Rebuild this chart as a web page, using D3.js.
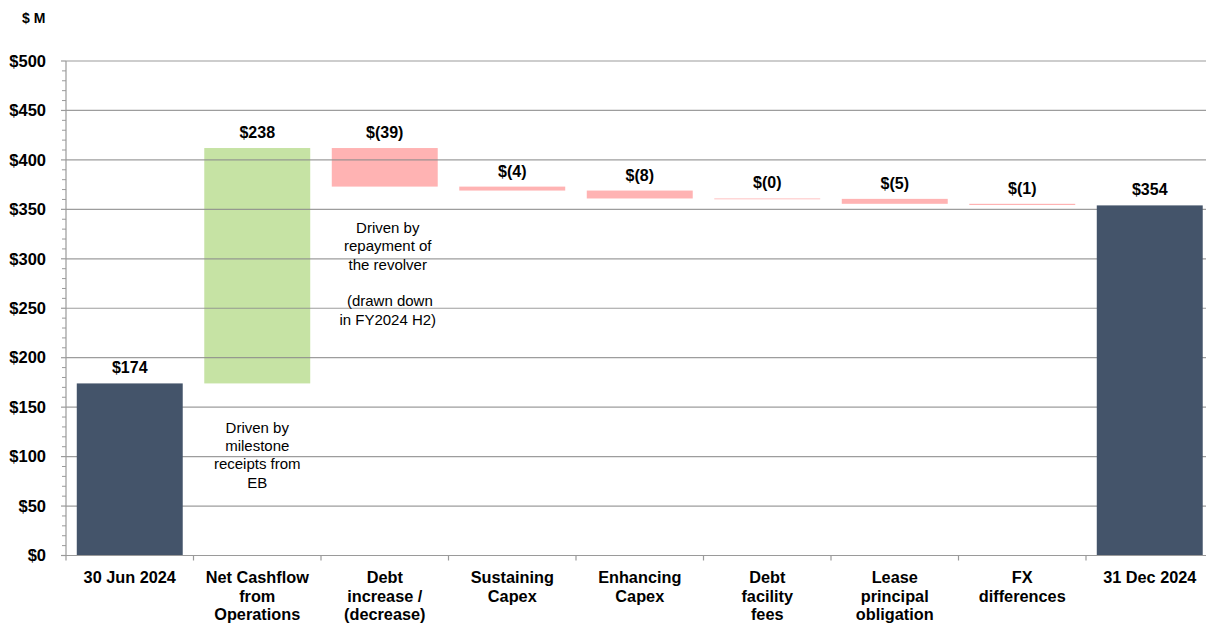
<!DOCTYPE html>
<html>
<head>
<meta charset="utf-8">
<title>waterfall</title>
<style>
  body { margin: 0; background: #fff; }
  svg text { font-family: "Liberation Sans", Arial, sans-serif; }
</style>
</head>
<body>
<main></main>
<script src="https://cdn.jsdelivr.net/npm/d3@7"></script>
<script>
    // 数据
    var categories = [
        ["30 Jun 2024"],
        ["Net Cashflow", "from", "Operations"],
        ["Debt", "increase /", "(decrease)"],
        ["Sustaining", "Capex"],
        ["Enhancing", "Capex"],
        ["Debt", "facility", "fees"],
        ["Lease", "principal", "obligation"],
        ["FX", "differences"],
        ["31 Dec 2024"]
    ];
    var values = [174, 238, -39, -4, -8, -0.4, -5, -1.2, 354];
    var kinds = ["total", "delta", "delta", "delta", "delta", "delta", "delta", "delta", "total"];
    var valueLabels = ["$174", "$238", "$(39)", "$(4)", "$(8)", "$(0)", "$(5)", "$(1)", "$354"];
    var yTicks = [0, 50, 100, 150, 200, 250, 300, 350, 400, 450, 500];
    var notes = [
        { index: 1, lines: ["Driven by", "milestone", "receipts from", "EB"], at: 124, dx: 0 },
        { index: 2, lines: ["Driven by", "repayment of", "the revolver", "", " (drawn down", "in FY2024 H2)"], at: 326, dx: 3 }
    ];

    var width = 1206, height = 625;
    var margin = { left: 66, top: 61, bottom: 69 };

    var svg = d3.select("main").append("svg")
        .attr("width", width)
        .attr("height", height);

    // 图表区右侧超出画布一点
    var xEnd = 1213.5;
    var x = d3.scaleBand()
        .domain(d3.range(categories.length))
        .range([margin.left, xEnd])
        .paddingInner(0.169)
        .paddingOuter(0.0845);

    var y = d3.scaleLinear()
        .domain([0, 500])
        .range([height - margin.bottom - 0.5, margin.top]);

    // 计算起止
    var running = 0;
    var bars = values.map(function (v, i) {
        var b;
        if (kinds[i] === "total") {
            b = { y0: 0, y1: v };
            running = v;
        } else {
            b = { y0: running, y1: running + v };
            running += v;
        }
        b.v = v;
        b.kind = kinds[i];
        b.i = i;
        return b;
    });

    function fillOf(d) {
        if (d.kind === "total") return "#44546a";
        return d.v >= 0 ? "#c6e3a4" : "#ffb3b3";
    }

    function drawBars(sel) {
        sel.attr("x", function (d) { return x(d.i); })
            .attr("width", x.bandwidth())
            .attr("y", function (d) { return y(Math.max(d.y0, d.y1)); })
            .attr("height", function (d) { return Math.max(0.8, Math.abs(y(d.y0) - y(d.y1))); })
            .attr("fill", fillOf);
    }

    // 浮动柱子 (网格线盖在上面)
    svg.append("g")
        .selectAll("rect")
        .data(bars.filter(function (d) { return d.kind !== "total"; }))
        .enter().append("rect")
        .call(drawBars);

    // 网格线
    svg.append("g")
        .selectAll("line")
        .data(yTicks.filter(function (t) { return t > 0; }))
        .enter().append("line")
        .attr("x1", margin.left)
        .attr("x2", width)
        .attr("y1", function (d) { return y(d); })
        .attr("y2", function (d) { return y(d); })
        .attr("stroke", "#8c8c8c")
        .attr("stroke-opacity", 0.85)
        .attr("stroke-width", 1.2);

    // 期初/期末柱子
    svg.append("g")
        .selectAll("rect")
        .data(bars.filter(function (d) { return d.kind === "total"; }))
        .enter().append("rect")
        .call(drawBars);

    // 数值标签
    svg.append("g")
        .selectAll("text")
        .data(bars)
        .enter().append("text")
        .attr("x", function (d) { return x(d.i) + x.bandwidth() / 2; })
        .attr("y", function (d) { return y(Math.max(d.y0, d.y1)) - 10; })
        .attr("text-anchor", "middle")
        .attr("font-size", 16)
        .attr("font-weight", "bold")
        .attr("fill", "#000")
        .text(function (d, i) { return valueLabels[i]; });

    // y 轴
    var yAxis = svg.append("g").attr("transform", "translate(" + margin.left + ",0)");
    yAxis.append("line")
        .attr("x1", 0).attr("x2", 0)
        .attr("y1", y(500)).attr("y2", y(0))
        .attr("stroke", "#9a9a9a").attr("stroke-width", 1.2);
    yAxis.selectAll(".minor")
        .data(d3.range(0, 501, 10).filter(function (t) { return t % 50 !== 0; }))
        .enter().append("line")
        .attr("x1", -4).attr("x2", 0)
        .attr("y1", function (d) { return y(d); })
        .attr("y2", function (d) { return y(d); })
        .attr("stroke", "#9a9a9a").attr("stroke-width", 1);
    yAxis.selectAll(".major")
        .data(yTicks)
        .enter().append("line")
        .attr("x1", -5).attr("x2", 0)
        .attr("y1", function (d) { return y(d); })
        .attr("y2", function (d) { return y(d); })
        .attr("stroke", "#9a9a9a").attr("stroke-width", 1.2);
    yAxis.selectAll("text")
        .data(yTicks)
        .enter().append("text")
        .attr("x", -20)
        .attr("y", function (d) { return y(d); })
        .attr("dy", "0.35em")
        .attr("text-anchor", "end")
        .attr("font-size", 16.5)
        .attr("font-weight", "bold")
        .text(function (d) { return "$" + d; });

    svg.append("text")
        .attr("x", 22).attr("y", 23)
        .attr("font-size", 14)
        .attr("font-weight", "bold")
        .text("$ M");

    // x 轴
    var xAxis = svg.append("g");
    xAxis.append("line")
        .attr("x1", margin.left).attr("x2", width)
        .attr("y1", y(0)).attr("y2", y(0))
        .attr("stroke", "#9a9a9a").attr("stroke-width", 1.2);
    xAxis.selectAll(".tick")
        .data(d3.range(categories.length + 1))
        .enter().append("line")
        .attr("x1", function (d) { return margin.left + d * x.step(); })
        .attr("x2", function (d) { return margin.left + d * x.step(); })
        .attr("y1", y(0)).attr("y2", y(0) + 5)
        .attr("stroke", "#9a9a9a").attr("stroke-width", 1.2);

    var catText = xAxis.selectAll(".cat")
        .data(categories)
        .enter().append("text")
        .attr("x", function (d, i) { return x(i) + x.bandwidth() / 2; })
        .attr("y", y(0) + 27.5)
        .attr("text-anchor", "middle")
        .attr("font-size", 16.3)
        .attr("font-weight", "bold");
    catText.selectAll("tspan")
        .data(function (d) { return d; })
        .enter().append("tspan")
        .attr("x", function () { return d3.select(this.parentNode).attr("x"); })
        .attr("dy", function (d, i) { return i === 0 ? 0 : 18.5; })
        .text(function (d) { return d; });

    // 注释
    notes.forEach(function (n) {
        var t = svg.append("text")
            .attr("x", x(n.index) + x.bandwidth() / 2 + n.dx)
            .attr("y", y(n.at))
            .attr("text-anchor", "middle")
            .attr("font-size", 15)
            .attr("fill", "#000");
        t.selectAll("tspan")
            .data(n.lines)
            .enter().append("tspan")
            .attr("x", t.attr("x"))
            .attr("dy", function (d, i) { return i === 0 ? 0 : 18.3; })
            .attr("xml:space", "preserve")
            .text(function (d) { return d === "" ? "\u00a0" : d; });
    });
</script>
</body>
</html>
